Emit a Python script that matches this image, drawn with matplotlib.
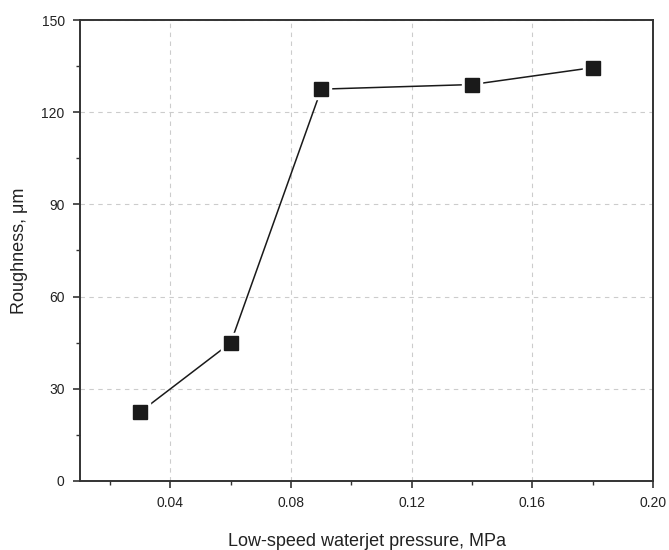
import matplotlib.pyplot as plt
from matplotlib.ticker import MultipleLocator

# data
pressure = [0.03, 0.06, 0.09, 0.14, 0.18]
roughness = [22.5, 45, 127.5, 129, 134.5]

plt.rcParams['font.family'] = ['Liberation Sans', 'DejaVu Sans']

fig = plt.figure(figsize=(6.69, 5.5), dpi=100)
ax = fig.add_axes([80 / 669, 69 / 550, 573 / 669, 461 / 550])

# line, then white squares to leave a gap, then the black squares
ax.plot(pressure, roughness, color='#1a1a1a', lw=1.1, zorder=3)
ax.plot(pressure, roughness, 's', ms=14, color='white', mec='white', zorder=4)
ax.plot(pressure, roughness, 's', ms=10, color='#1a1a1a', mec='#1a1a1a', zorder=5)

ax.set_xlim(0.01, 0.20)
ax.set_ylim(0, 150)
ax.xaxis.set_minor_locator(MultipleLocator(0.02))
ax.yaxis.set_major_locator(MultipleLocator(30))
ax.yaxis.set_minor_locator(MultipleLocator(15))
ax.set_xticks([0.04, 0.08, 0.12, 0.16, 0.20])
ax.set_xticklabels(['0.04', '0.08', '0.12', '0.16', '0.20'])

ax.grid(True, which='major', ls=(0, (4, 4)), color='#cccccc', lw=0.8)
ax.tick_params(which='major', direction='out', length=5, width=1.2, colors='#333333',
               labelsize=10, labelcolor='#222222', pad=6)
ax.tick_params(which='minor', direction='out', length=3, width=1.0, colors='#333333')
for s in ax.spines.values():
    s.set_color('#333333')
    s.set_linewidth(1.4)

ax.set_xlabel('Low-speed waterjet pressure, MPa', fontsize=13, labelpad=16, color='#222222')
ax.set_ylabel('Roughness, μm', fontsize=13, labelpad=10, color='#222222')

fig.savefig('out.png', dpi=100)
